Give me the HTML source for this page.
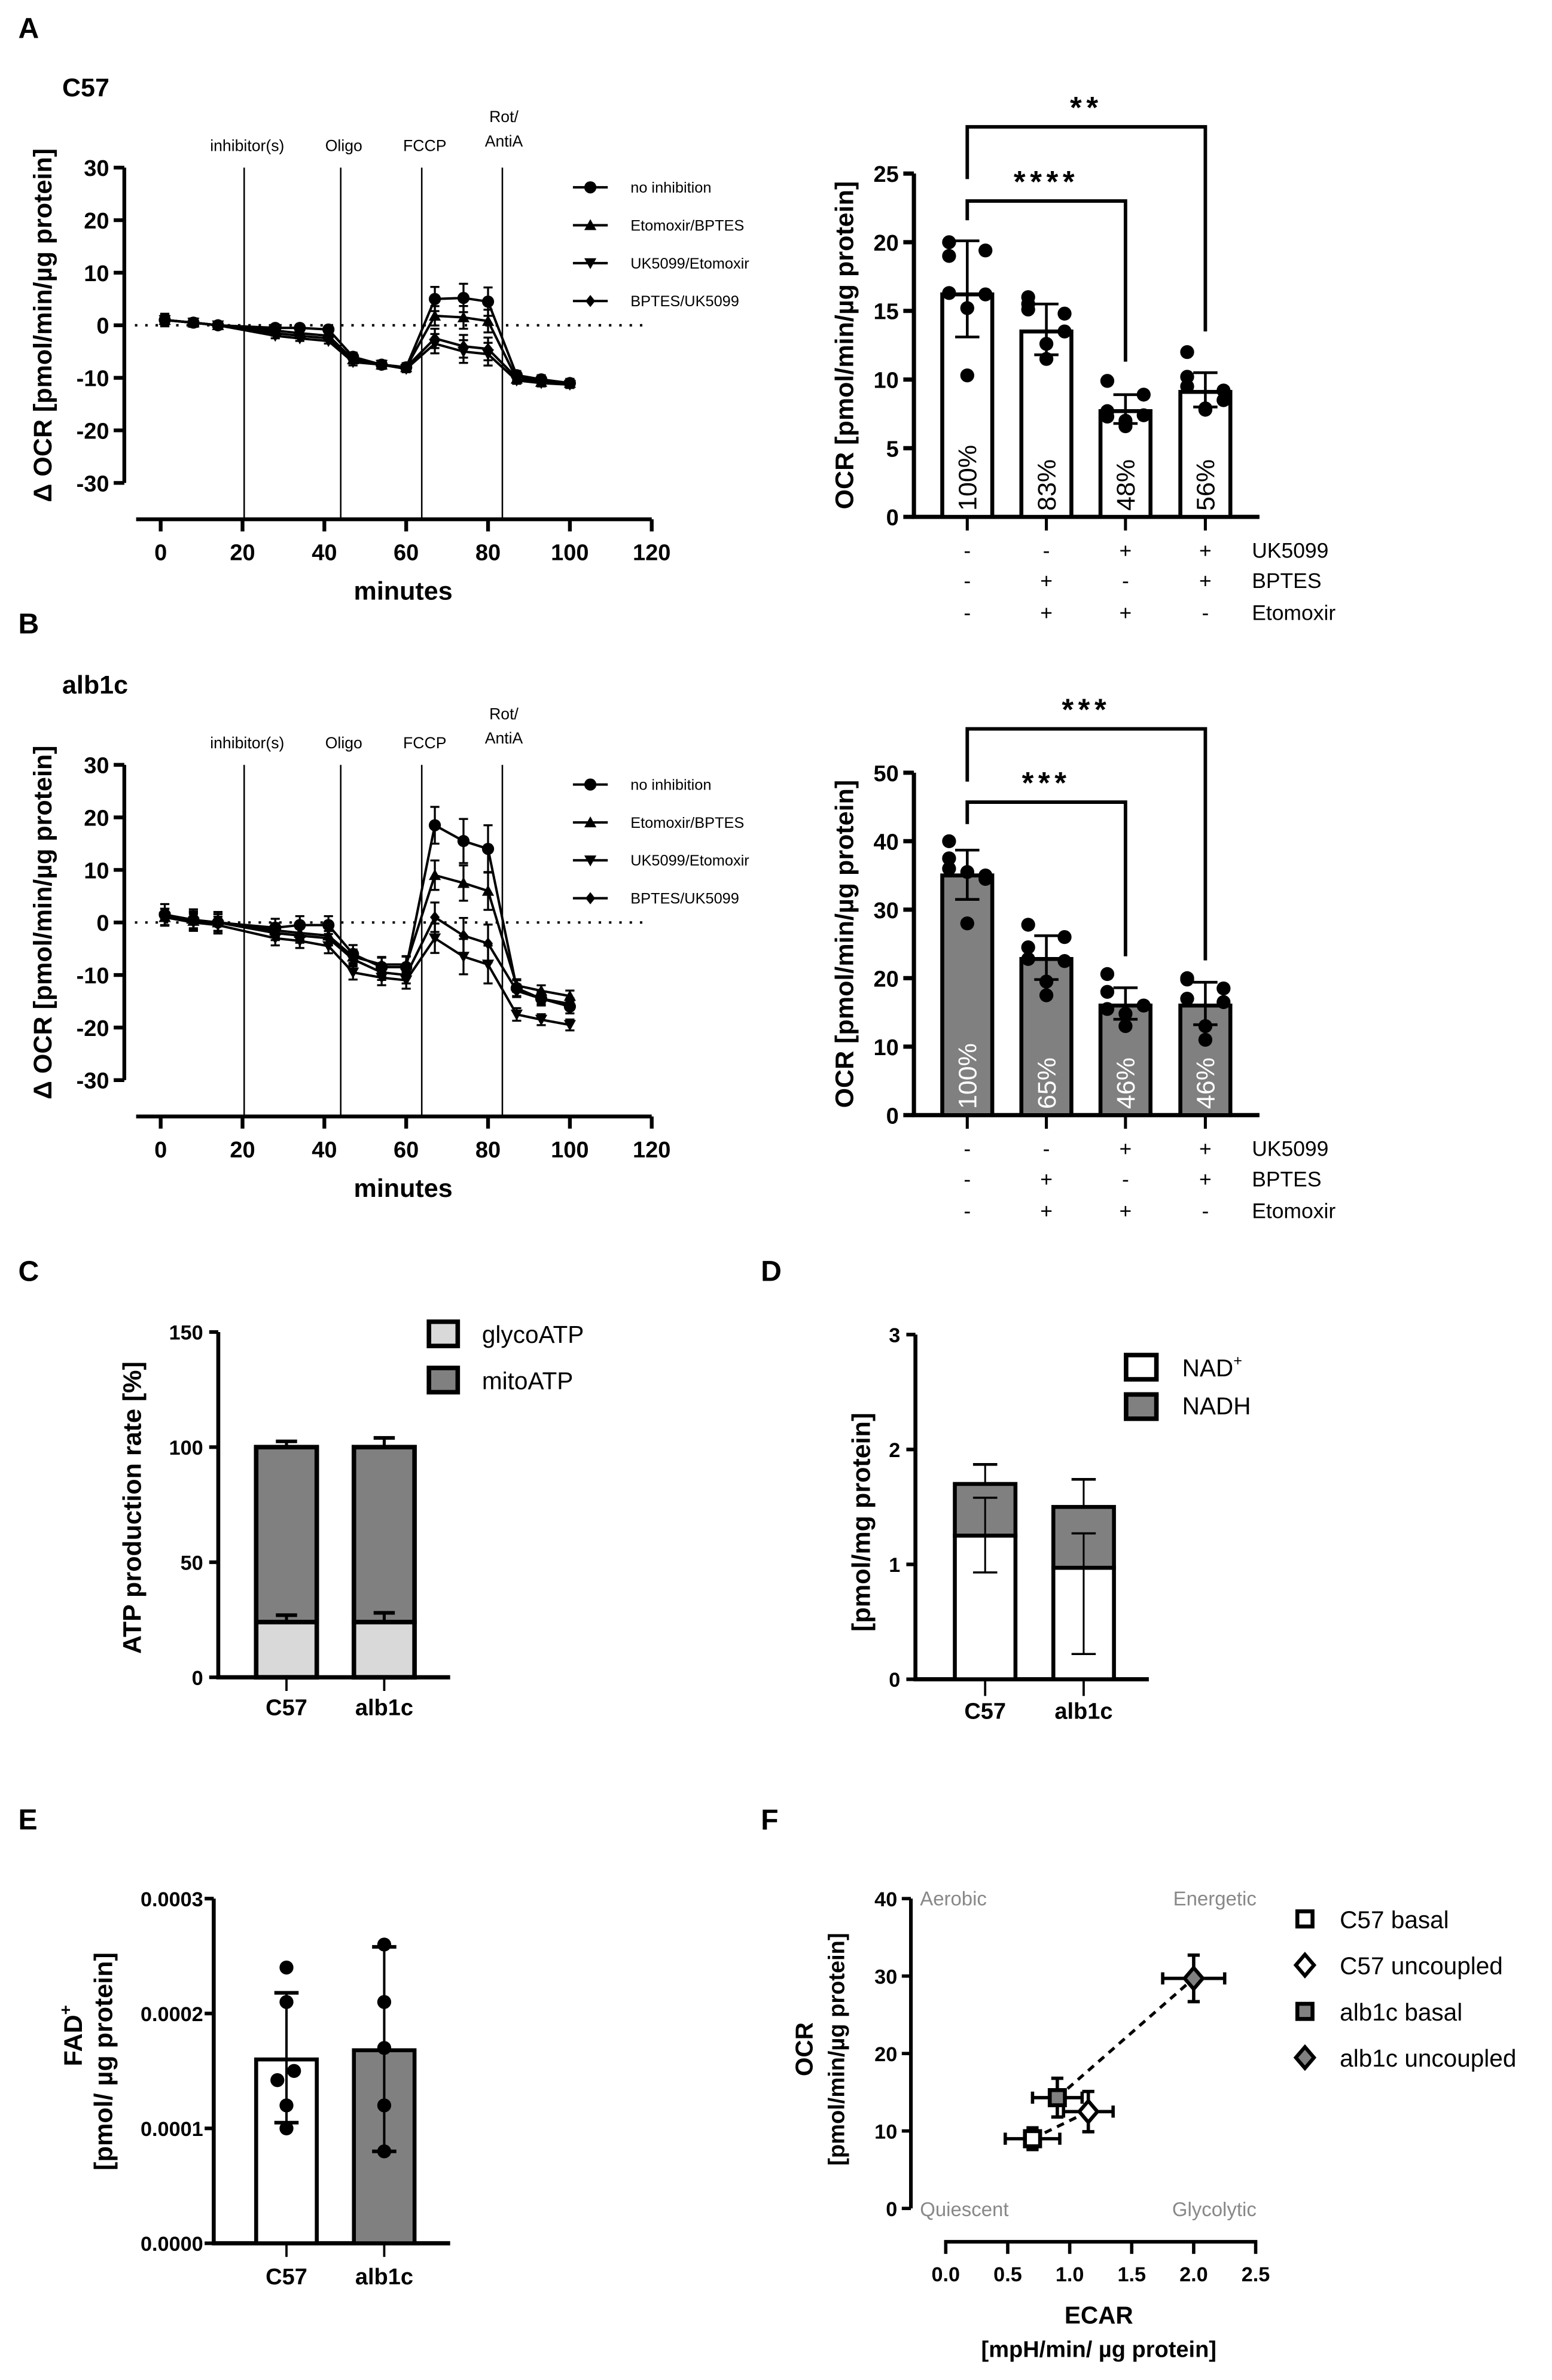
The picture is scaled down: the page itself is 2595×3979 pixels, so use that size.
<!DOCTYPE html>
<html><head><meta charset="utf-8"><style>
html,body{margin:0;padding:0;background:#fff;}
svg{display:block;}
text{font-family:"Liberation Sans",Arial,sans-serif;}
</style></head><body>
<svg id="fig" xmlns="http://www.w3.org/2000/svg" width="2595" height="3979" viewBox="0 0 1024 1570.2"></svg>
<script>
// ---- Panel A/B time-course data ----
const timePts = [1, 8, 14, 28, 34, 41, 47, 54, 60, 67, 74, 80, 87, 93, 100];
const seriesNames = ["no inhibition", "Etomoxir/BPTES", "UK5099/Etomoxir", "BPTES/UK5099"];
const xTicksTime = [0, 20, 40, 60, 80, 100, 120];
const yTicksDelta = [30, 20, 10, 0, -10, -20, -30];
const injectTimes = [20.4, 44, 63.8, 83.5];
const injectLabels = ["inhibitor(s)", "Oligo", "FCCP", "Rot/AntiA"];
const aNoInh = [1, 0.5, 0, -0.5, -0.5, -0.8, -6, -7.5, -8, 5, 5.2, 4.5, -9.5, -10.3, -11];
const aEtoB = [1, 0.5, 0, -1, -1.5, -2, -6.5, -7.5, -8, 1.8, 1.5, 0.8, -10.2, -10.8, -11];
const aUkEto = [1, 0.5, 0, -2, -2.5, -3, -7, -7.5, -8.3, -3.5, -5, -5.5, -10.5, -11, -11.3];
const aBpUk = [1, 0.5, 0, -1.5, -2, -2.5, -6.5, -7.5, -8, -2.5, -4, -4.5, -10, -10.5, -11];
const aErr = [1.2, 0.8, 0.6, 0.6, 0.6, 0.6, 0.8, 0.8, 0.8, 2.3, 2.7, 2.7, 0.8, 0.8, 0.8];
const bNoInh = [1.5, 0.5, 0, -1, -0.5, -0.5, -6, -8.5, -8.5, 18.5, 15.5, 14, -12.5, -14.5, -16];
const bEtoB = [1, 0.3, 0, -1.5, -2, -2.5, -6.5, -8, -8, 9, 7.5, 6, -12, -13, -14];
const bUkEto = [1, 0, -0.5, -3, -3.5, -4.5, -9.5, -10.5, -11, -3, -6.5, -8, -17.5, -18.5, -19.5];
const bBpUk = [1, 0.5, 0, -2, -2.5, -3, -7, -9.5, -10, 1, -2.5, -4, -13, -14.5, -15.5];
const bErr = [2, 2, 2, 1.7, 1.7, 1.7, 1.7, 1.8, 2, 3.5, 4.2, 4.5, 1.5, 1.3, 1.3];

// ---- Panel A/B bar data ----
const signUK = ["-", "-", "+", "+"];
const signBP = ["-", "+", "-", "+"];
const signEto = ["-", "+", "+", "-"];
const aBarMean = [16.2, 13.5, 7.7, 9.1];
const aBarLo = [13.1, 11.8, 6.8, 8.0];
const aBarHi = [20.1, 15.5, 8.9, 10.5];
const aBarPct = ["100%", "83%", "48%", "56%"];
const aPts1 = [20, 19, 19.4, 16.3, 16.2, 15.2, 10.3];
const aPts2 = [15.1, 16, 14.8, 15.5, 13.5, 12.6, 11.5];
const aPts3 = [7.7, 9.9, 8.9, 7.3, 7.4, 6.6, 7.0];
const aPts4 = [9.5, 12, 9.2, 10.2, 8.5, 7.8, 7.9];
const aYTicks = [0, 5, 10, 15, 20, 25];
const bBarMean = [35, 22.8, 16, 16];
const bBarLo = [31.5, 19.8, 14, 13.2];
const bBarHi = [38.7, 26.2, 18.6, 19.4];
const bBarPct = ["100%", "65%", "46%", "46%"];
const bPts1 = [36, 37.5, 35, 40, 34.5, 35.5, 28];
const bPts2 = [27.8, 24.5, 26, 22.8, 22.5, 19.5, 17.5];
const bPts3 = [15.5, 20.6, 16, 18, 16, 13, 14.8];
const bPts4 = [17, 19.8, 16.5, 20, 18.5, 13, 11];
const bYTicks = [0, 10, 20, 30, 40, 50];
const aBrLevels = [23, 28.4];
const aBrStars = ["****", "**"];
const bBrLevels = [45.7, 56.4];
const bBrStars = ["***", "***"];

// ---- Panel C ----
const cCats = ["C57", "alb1c"];
const cGlyco = [24, 24];
const cGlycoErr = [27, 28];
const cTotal = [100, 100];
const cTotalErr = [102.5, 104];
const cYTicks = [0, 50, 100, 150];
// ---- Panel D ----
const dNAD = [1.25, 0.97];
const dTotal = [1.7, 1.5];
const dNADLo = [0.93, 0.22];
const dNADHi = [1.58, 1.27];
const dTotHi = [1.87, 1.74];
const dYTicks = [0, 1, 2, 3];
// ---- Panel E ----
const eMean = [0.00016, 0.000168];
const eLo = [0.000105, 0.00008];
const eHi = [0.000218, 0.000258];
const ePts1 = [0.00024, 0.00021, 0.00015, 0.000142, 0.00012, 0.0001];
const ePts2 = [0.00026, 0.00021, 0.00017, 0.00012, 0.00008];
const eYTicks = ["0.0000", "0.0001", "0.0002", "0.0003"];
// ---- Panel F ----
const fNames = ["C57 basal", "C57 uncoupled", "alb1c basal", "alb1c uncoupled"];
const fEcar = [0.7, 1.15, 0.9, 2.0];
const fEcarErr = [0.22, 0.2, 0.2, 0.25];
const fOcr = [9, 12.5, 14.3, 29.7];
const fOcrErr = [1.4, 2.6, 2.5, 3];
const fXTicks = [0, 0.5, 1.0, 1.5, 2.0, 2.5];
const fYTicks = [0, 10, 20, 30, 40];

const NS = "http://www.w3.org/2000/svg";
const svg = document.getElementById("fig");
function mk(tag, attrs, parent) {
  const el = document.createElementNS(NS, tag);
  for (const k in attrs) el.setAttribute(k, attrs[k]);
  (parent || svg).appendChild(el);
  return el;
}
function ln(x1, y1, x2, y2, w, name, extra) {
  const el = mk("line", Object.assign({x1: x1, y1: y1, x2: x2, y2: y2, stroke: "#000", "stroke-width": w}, extra || {}));
  
  
  return el;
}
function tx(x, y, s, size, name, extra) {
  const el = mk("text", Object.assign({x: x, y: y, "font-size": size}, extra || {}));
  el.textContent = s;
  
  
  return el;
}
function marker(kind, cx, cy, s, fill, name) {
  let el;
  if (kind === 0) el = mk("circle", {cx: cx, cy: cy, r: s, fill: fill});
  else if (kind === 1) el = mk("polygon", {points: `${cx},${cy - s} ${cx + s},${cy + s * 0.8} ${cx - s},${cy + s * 0.8}`, fill: fill});
  else if (kind === 2) el = mk("polygon", {points: `${cx},${cy + s} ${cx + s},${cy - s * 0.8} ${cx - s},${cy - s * 0.8}`, fill: fill});
  else el = mk("polygon", {points: `${cx},${cy - s} ${cx + s * 0.8},${cy} ${cx},${cy + s} ${cx - s * 0.8},${cy}`, fill: fill});
  
  
  return el;
}

// Panel letters
[["A", 18, 18], ["B", 18, 411], ["C", 18, 838], ["D", 508, 838], ["E", 18, 1200], ["F", 508, 1200]].forEach(p => {
  tx(p[1] - 6, p[2] + 7, p[0], 19, "panel-letter-" + p[0].toLowerCase(), {"font-weight": "bold"});
});

// ---------- Time course charts ----------
function lineChart(y0, title, data, err, key) {
  const X = t => 106 + t * 2.7;
  const Y = v => y0 - v * (104 / 30);
  tx(41, y0 - 151, title, 17, key + "-title", {"font-weight": "bold"});
  ln(82, Y(30), 82, Y(-30), 2.5, key + "-y-axis");
  yTicksDelta.forEach(v => {
    ln(75, Y(v), 82, Y(v), 2.5, key + "-y-tick");
    tx(72, Y(v) + 5.5, String(v), 15, key + "-y-tick-label", {"font-weight": "bold", "text-anchor": "end"});
  });
  const xa = y0 + 128;
  ln(X(-6), xa, X(120), xa, 2.5, key + "-x-axis");
  xTicksTime.forEach(v => {
    ln(X(v), xa, X(v), xa + 8, 2.5, key + "-x-tick");
    tx(X(v), xa + 27, String(v), 15, key + "-x-tick-label", {"font-weight": "bold", "text-anchor": "middle"});
  });
  tx(266, xa + 53, "minutes", 17, key + "-x-axis-title", {"font-weight": "bold", "text-anchor": "middle"});
  tx(0, 0, "Δ OCR [pmol/min/µg protein]", 17, key + "-y-axis-title", {"font-weight": "bold", "text-anchor": "middle", transform: `translate(34,${y0}) rotate(-90)`});
  ln(89, Y(0), 424, Y(0), 1.6, key + "-zero-line", {"stroke-dasharray": "1.6 5.2"});
  injectTimes.forEach((t, i) => {
    ln(X(t), Y(30), X(t), xa, 1, key + "-injection-line");
    if (i < 3) tx(X(t) + 2, y0 - 115, injectLabels[i], 10.5, key + "-injection-label", {"text-anchor": "middle"});
    else {
      tx(X(t) + 1, y0 - 134, "Rot/", 10.5, key + "-injection-label", {"text-anchor": "middle"});
      tx(X(t) + 1, y0 - 118, "AntiA", 10.5, key + "-injection-label", {"text-anchor": "middle"});
    }
  });
  data.forEach((vals, si) => {
    const pts = vals.map((v, i) => `${X(timePts[i])},${Y(v)}`).join(" ");
    const pl = mk("polyline", {points: pts, fill: "none", stroke: "#000", "stroke-width": 1.6});
    
    
    vals.forEach((v, i) => {
      const x = X(timePts[i]);
      const e = err[i] * (si === 0 ? 1 : 0.8);
      ln(x, Y(v + e), x, Y(v - e), 1.3, key + "-error-bar");
      ln(x - 3, Y(v + e), x + 3, Y(v + e), 1.3, key + "-error-cap");
      ln(x - 3, Y(v - e), x + 3, Y(v - e), 1.3, key + "-error-cap");
      marker(si, x, Y(v), 4, "#000", key + "-point");
    });
  });
  seriesNames.forEach((n, i) => {
    const ly = y0 - 91 + i * 25;
    ln(378, ly, 401, ly, 1.6, key + "-legend-line");
    marker(i, 389.5, ly, 4, "#000", key + "-legend-marker");
    tx(416, ly + 3.5, n, 10, key + "-legend-entry");
  });
}
lineChart(214.6, "C57", [aNoInh, aEtoB, aUkEto, aBpUk], aErr, "a-line");
lineChart(608.6, "alb1c", [bNoInh, bEtoB, bUkEto, bBpUk], bErr, "b-line");

// ---------- Bar charts A/B ----------
const barCx = [638.2, 690.4, 742.6, 795.3];
const jit = [-12, -12, 12, -12, 12, 0, 0];
function barChart(y0, kPer, ticks, means, lo, hi, pts, pct, fill, pctColor, levels, stars, legs, key) {
  const Y = v => y0 - v * kPer;
  const top = ticks[ticks.length - 1];
  ln(603, Y(top), 603, y0 + 1, 2.8, key + "-y-axis");
  ticks.forEach(v => {
    ln(596, Y(v), 603, Y(v), 2.8, key + "-y-tick");
    tx(593, Y(v) + 5.5, String(v), 15, key + "-y-tick-label", {"font-weight": "bold", "text-anchor": "end"});
  });
  ln(601.6, y0, 831, y0, 2.8, key + "-x-axis");
  tx(0, 0, "OCR [pmol/min/µg protein]", 17, key + "-y-axis-title", {"font-weight": "bold", "text-anchor": "middle", transform: `translate(563,${(Y(top) + y0) / 2}) rotate(-90)`});
  means.forEach((m, i) => {
    const cx = barCx[i];
    const r = mk("rect", {x: cx - 16.5, y: Y(m), width: 33, height: y0 - Y(m), fill: fill, stroke: "#000", "stroke-width": 2.6});
    
    
    tx(0, 0, pct[i], 17, key + "-bar-percent", {fill: pctColor, transform: `translate(${cx + 6},${y0 - 4}) rotate(-90)`});
    ln(cx, Y(lo[i]), cx, Y(hi[i]), 1.8, key + "-error-bar");
    ln(cx - 8, Y(lo[i]), cx + 8, Y(lo[i]), 1.8, key + "-error-cap");
    ln(cx - 8, Y(hi[i]), cx + 8, Y(hi[i]), 1.8, key + "-error-cap");
    pts[i].forEach((p, j) => {
      const d = mk("circle", {cx: cx + jit[j], cy: Y(p), r: 4.6, fill: "#000"});
      
      
    });
    ln(cx, y0, cx, y0 + 9, 2, key + "-x-tick");
    tx(cx, y0 + 27, signUK[i], 14, key + "-sign-uk5099", {"text-anchor": "middle"});
    tx(cx, y0 + 47, signBP[i], 14, key + "-sign-bptes", {"text-anchor": "middle"});
    tx(cx, y0 + 68, signEto[i], 14, key + "-sign-etomoxir", {"text-anchor": "middle"});
  });
  tx(826, y0 + 27, "UK5099", 14, key + "-row-label-uk5099");
  tx(826, y0 + 47, "BPTES", 14, key + "-row-label-bptes");
  tx(826, y0 + 68, "Etomoxir", 14, key + "-row-label-etomoxir");
  const targets = [2, 3];
  levels.forEach((lv, bi) => {
    const x1 = barCx[0], x2 = barCx[targets[bi]];
    const p = mk("path", {d: `M${x1},${Y(legs[bi][0])} V${Y(lv)} H${x2} V${Y(legs[bi][1])}`, fill: "none", stroke: "#000", "stroke-width": 2.3});
    
    
    tx((x1 + x2) / 2, Y(lv) - 6, stars[bi], 20, key + "-significance-stars", {"font-weight": "bold", "text-anchor": "middle", "letter-spacing": "3"});
  });
}
barChart(341, 9.06, aYTicks, aBarMean, aBarLo, aBarHi, [aPts1, aPts2, aPts3, aPts4], aBarPct, "#fff", "#000", aBrLevels, aBrStars, [[21.6, 11.3], [24.6, 13.5]], "a-bar");
barChart(735.7, 4.518, bYTicks, bBarMean, bBarLo, bBarHi, [bPts1, bPts2, bPts3, bPts4], bBarPct, "#808080", "#fff", bBrLevels, bBrStars, [[42.5, 23.2], [48.7, 22.6]], "b-bar");

// ---------- Panel C ----------
(function () {
  const y0 = 1106.6, k = 227.8 / 150;
  const Y = v => y0 - v * k;
  const cx = [189, 253.5];
  ln(144, Y(150), 144, y0 + 1, 2.6, "c-y-axis");
  cYTicks.forEach(v => {
    ln(138, Y(v), 144, Y(v), 2.4, "c-y-tick");
    tx(134, Y(v) + 5, String(v), 13.5, "c-y-tick-label", {"text-anchor": "end", "font-weight": "bold"});
  });
  ln(142.7, y0, 297, y0, 2.8, "c-x-axis");
  tx(0, 0, "ATP production rate [%]", 17, "c-y-axis-title", {"font-weight": "bold", "text-anchor": "middle", transform: `translate(93,${(Y(150) + y0) / 2 + 2}) rotate(-90)`});
  cCats.forEach((c, i) => {
    const x = cx[i];
    ln(x, Y(cTotal[i]), x, Y(cTotalErr[i]), 2, "c-error-bar");
    ln(x - 7, Y(cTotalErr[i]), x + 7, Y(cTotalErr[i]), 2.4, "c-error-cap");
    const m = mk("rect", {x: x - 20, y: Y(cTotal[i]), width: 40, height: Y(cGlyco[i]) - Y(cTotal[i]), fill: "#808080", stroke: "#000", "stroke-width": 3});
    
    
    const g = mk("rect", {x: x - 20, y: Y(cGlyco[i]), width: 40, height: y0 - Y(cGlyco[i]), fill: "#d9d9d9", stroke: "#000", "stroke-width": 3});
    
    
    ln(x, Y(cGlyco[i]), x, Y(cGlycoErr[i]), 2, "c-error-bar");
    ln(x - 7, Y(cGlycoErr[i]), x + 7, Y(cGlycoErr[i]), 2.4, "c-error-cap");
    ln(x, y0, x, y0 + 9, 1.5, "c-x-tick");
    tx(x, y0 + 25, c, 15, "c-x-tick-label", {"font-weight": "bold", "text-anchor": "middle"});
  });
  [["glycoATP", "#d9d9d9"], ["mitoATP", "#808080"]].forEach((l, i) => {
    const ly = 880 + i * 30.5;
    const r = mk("rect", {x: 283, y: ly - 8, width: 19, height: 16, fill: l[1], stroke: "#000", "stroke-width": 3});
    
    
    tx(318, ly + 6, l[0], 16, "c-legend-entry");
  });
})();

// ---------- Panel D ----------
(function () {
  const y0 = 1107.9, k = 75.8;
  const Y = v => y0 - v * k;
  const cx = [650, 715];
  ln(604, Y(3), 604, y0 + 1, 2.6, "d-y-axis");
  dYTicks.forEach(v => {
    ln(598, Y(v), 604, Y(v), 2.4, "d-y-tick");
    tx(594, Y(v) + 5, String(v), 13.5, "d-y-tick-label", {"text-anchor": "end", "font-weight": "bold"});
  });
  ln(602.7, y0, 758, y0, 2.8, "d-x-axis");
  tx(0, 0, "[pmol/mg protein]", 17, "d-y-axis-title", {"font-weight": "bold", "text-anchor": "middle", transform: `translate(574,${(Y(3) + y0) / 2 + 10}) rotate(-90)`});
  cCats.forEach((c, i) => {
    const x = cx[i];
    const h = mk("rect", {x: x - 20, y: Y(dTotal[i]), width: 40, height: Y(dNAD[i]) - Y(dTotal[i]), fill: "#808080", stroke: "#000", "stroke-width": 2.6});
    
    
    const n = mk("rect", {x: x - 20, y: Y(dNAD[i]), width: 40, height: y0 - Y(dNAD[i]), fill: "#fff", stroke: "#000", "stroke-width": 2.6});
    
    
    ln(x, Y(dNADLo[i]), x, Y(dNADHi[i]), 1.2, "d-error-bar");
    ln(x - 8, Y(dNADLo[i]), x + 8, Y(dNADLo[i]), 1.4, "d-error-cap");
    ln(x - 8, Y(dNADHi[i]), x + 8, Y(dNADHi[i]), 1.4, "d-error-cap");
    ln(x, Y(dTotal[i]), x, Y(dTotHi[i]), 1.2, "d-error-bar");
    ln(x - 8, Y(dTotHi[i]), x + 8, Y(dTotHi[i]), 1.8, "d-error-cap");
    ln(x, y0, x, y0 + 11, 1.5, "d-x-tick");
    tx(x, y0 + 26, c, 15, "d-x-tick-label", {"font-weight": "bold", "text-anchor": "middle"});
  });
  [["#fff", 902], ["#808080", 928]].forEach((l, i) => {
    const r = mk("rect", {x: 743, y: l[1] - 8, width: 20, height: 16, fill: l[0], stroke: "#000", "stroke-width": 3});
    
    
  });
  const t1 = tx(780, 908, "NAD", 16, "d-legend-entry-nad");
  const sup = mk("tspan", {dy: -7, "font-size": 10}, t1);
  sup.textContent = "+";
  
  
  tx(780, 933, "NADH", 16, "d-legend-entry-nadh");
})();

// ---------- Panel E ----------
(function () {
  const y0 = 1480, k = 227.4 / 0.0003;
  const Y = v => y0 - v * k;
  const cx = [189, 253.5];
  ln(141, Y(0.0003), 141, y0 + 1, 2.6, "e-y-axis");
  eYTicks.forEach(s => {
    const v = parseFloat(s);
    ln(135, Y(v), 141, Y(v), 2.4, "e-y-tick");
    tx(134, Y(v) + 5, s, 13.5, "e-y-tick-label", {"text-anchor": "end", "font-weight": "bold"});
  });
  ln(139.7, y0, 297, y0, 2.8, "e-x-axis");
  const t = tx(0, 0, "FAD", 17, "e-y-axis-title-line1", {"font-weight": "bold", "text-anchor": "middle", transform: "translate(54,1343) rotate(-90)"});
  const sp = mk("tspan", {dy: -7, "font-size": 11}, t);
  sp.textContent = "+";
  
  
  tx(0, 0, "[pmol/ µg protein]", 17, "e-y-axis-title-line2", {"font-weight": "bold", "text-anchor": "middle", transform: "translate(74,1360) rotate(-90)"});
  const pts = [ePts1, ePts2];
  const ej = [[0, 0, 5, -6, 0, 0], [0, 0, 0, 0, 0]];
  cCats.forEach((c, i) => {
    const x = cx[i];
    const r = mk("rect", {x: x - 20, y: Y(eMean[i]), width: 40, height: y0 - Y(eMean[i]), fill: i ? "#808080" : "#fff", stroke: "#000", "stroke-width": 2.6});
    
    
    ln(x, Y(eLo[i]), x, Y(eHi[i]), 1.6, "e-error-bar");
    ln(x - 8, Y(eLo[i]), x + 8, Y(eLo[i]), 2.4, "e-error-cap");
    ln(x - 8, Y(eHi[i]), x + 8, Y(eHi[i]), 2.4, "e-error-cap");
    pts[i].forEach((p, j) => {
      const d = mk("circle", {cx: x + ej[i][j], cy: Y(p), r: 4.6, fill: "#000"});
      
      
    });
    ln(x, y0, x, y0 + 9, 1.5, "e-x-tick");
    tx(x, y0 + 27, c, 15, "e-x-tick-label", {"font-weight": "bold", "text-anchor": "middle"});
  });
})();

// ---------- Panel F ----------
(function () {
  const X = v => 624 + v * 81.8;
  const Y = v => 1457 - v * 5.11;
  ln(601, Y(40), 601, Y(0), 2.4, "f-y-axis");
  fYTicks.forEach(v => {
    ln(595, Y(v), 601, Y(v), 2.2, "f-y-tick");
    tx(592, Y(v) + 5, String(v), 13.5, "f-y-tick-label", {"text-anchor": "end", "font-weight": "bold"});
  });
  ln(623, 1479, 829.5, 1479, 2.4, "f-x-axis");
  fXTicks.forEach(v => {
    ln(X(v), 1478, X(v), 1487, 2.2, "f-x-tick");
    tx(X(v), 1505, v.toFixed(1), 13.5, "f-x-tick-label", {"text-anchor": "middle", "font-weight": "bold"});
  });
  tx(725, 1533, "ECAR", 16, "f-x-axis-title", {"font-weight": "bold", "text-anchor": "middle"});
  tx(725, 1555, "[mpH/min/ µg protein]", 15, "f-x-axis-subtitle", {"font-weight": "bold", "text-anchor": "middle"});
  tx(0, 0, "OCR", 16, "f-y-axis-title", {"font-weight": "bold", "text-anchor": "middle", transform: "translate(536,1352) rotate(-90)"});
  tx(0, 0, "[pmol/min/µg protein]", 15, "f-y-axis-subtitle", {"font-weight": "bold", "text-anchor": "middle", transform: "translate(557,1352) rotate(-90)"});
  tx(607, 1257, "Aerobic", 13, "f-quadrant-aerobic", {fill: "#888"});
  tx(829, 1257, "Energetic", 13, "f-quadrant-energetic", {fill: "#888", "text-anchor": "end"});
  tx(607, 1462, "Quiescent", 13, "f-quadrant-quiescent", {fill: "#888"});
  tx(829, 1462, "Glycolytic", 13, "f-quadrant-glycolytic", {fill: "#888", "text-anchor": "end"});
  ln(X(fEcar[0]), Y(fOcr[0]), X(fEcar[1]), Y(fOcr[1]), 2, "f-dashed-link-c57", {"stroke-dasharray": "5 4"});
  ln(X(fEcar[2]), Y(fOcr[2]), X(fEcar[3]), Y(fOcr[3]), 2, "f-dashed-link-alb1c", {"stroke-dasharray": "5 4"});
  const fills = ["#fff", "#fff", "#808080", "#808080"];
  function fMark(i, cx, cy, name) {
    let el;
    if (i % 2 === 0) el = mk("rect", {x: cx - 5, y: cy - 5, width: 10, height: 10, fill: fills[i], stroke: "#000", "stroke-width": 2.6});
    else el = mk("polygon", {points: `${cx},${cy - 7} ${cx + 6},${cy} ${cx},${cy + 7} ${cx - 6},${cy}`, fill: fills[i], stroke: "#000", "stroke-width": 2.4});
    
    
  }
  fEcar.forEach((e, i) => {
    const x = X(e), y = Y(fOcr[i]);
    const x1 = X(e - fEcarErr[i]), x2 = X(e + fEcarErr[i]);
    const y1 = Y(fOcr[i] - fOcrErr[i]), y2 = Y(fOcr[i] + fOcrErr[i]);
    ln(x1, y, x2, y, 2.2, "f-x-error-bar");
    ln(x1, y - 4, x1, y + 4, 2.2, "f-x-error-cap");
    ln(x2, y - 4, x2, y + 4, 2.2, "f-x-error-cap");
    ln(x, y1, x, y2, 2.2, "f-y-error-bar");
    ln(x - 4, y1, x + 4, y1, 2.2, "f-y-error-cap");
    ln(x - 4, y2, x + 4, y2, 2.2, "f-y-error-cap");
    fMark(i, x, y, "f-point");
  });
  fNames.forEach((n, i) => {
    const ly = 1266 + i * 30.5;
    fMark(i, 861, ly, "f-legend-marker");
    tx(884, ly + 6, n, 16, "f-legend-entry");
  });
})();
</script>
</body></html>
